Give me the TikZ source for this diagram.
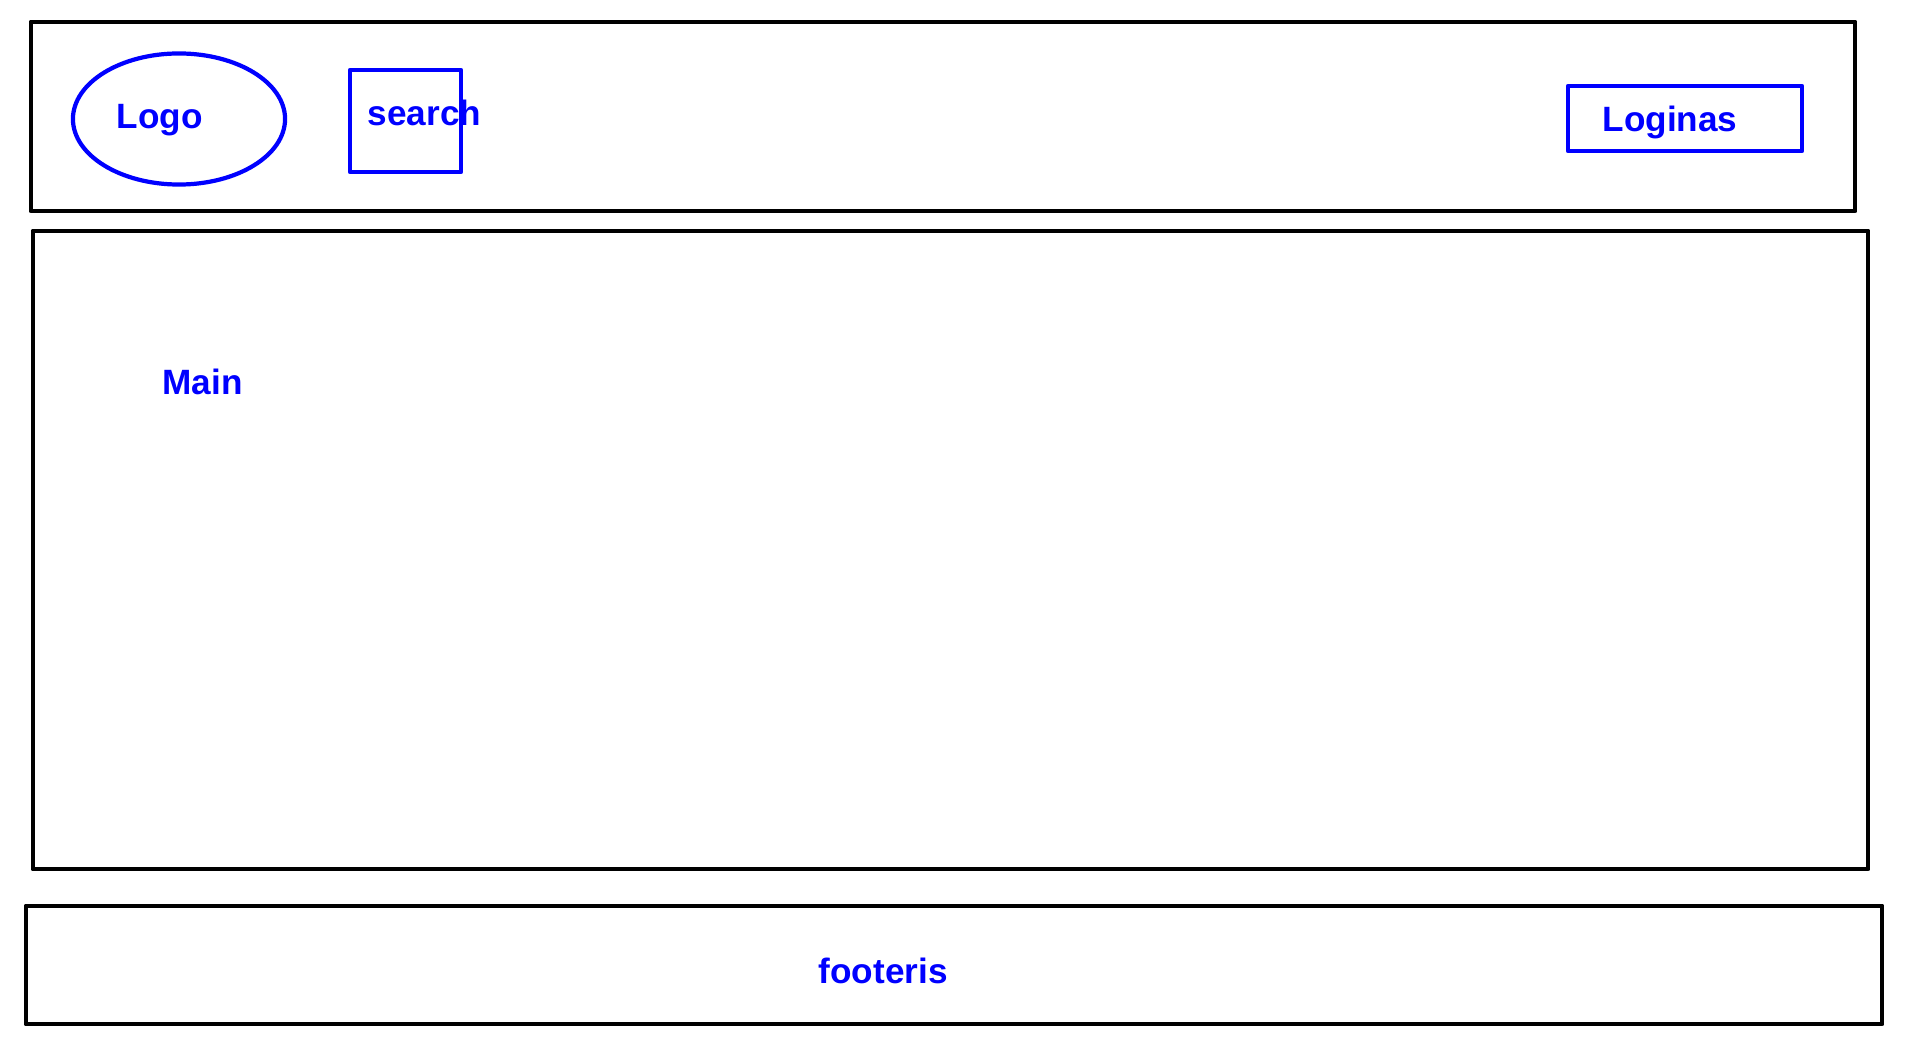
\documentclass[tikz,border=0pt]{standalone}
\usepackage{fontspec}
\setmainfont{Liberation Sans}
\usetikzlibrary{shapes.geometric}
\tikzset{
  frame/.style={line width=1.4pt,black,line join=round},
  widget/.style={line width=1.2pt,blue,line join=round},
  label/.style={blue,anchor=base west,inner sep=0pt,font=\fontsize{10pt}{12pt}\selectfont\bfseries}
}

\begin{document}
\begin{tikzpicture}[x=0.01cm,y=-0.01cm]
    \useasboundingbox (0,0) rectangle (1915,1049);
    \draw[frame] (31,22) rectangle (1855,211);
    \draw[frame] (33,231) rectangle (1868,869);
    \draw[frame] (26,906) rectangle (1882,1024);

    \node[widget,draw,ellipse,minimum width=2.12cm,minimum height=1.31cm,inner sep=0pt] (logobox) at (179,119) {};
    \draw[widget] (350,70) rectangle (461,172);
    \draw[widget] (1568,86) rectangle (1802,151);

    \node[label] (logo) at (116,129) {Logo};
    \node[label] (search) at (367,126) {search};
    \node[label] (login) at (1602,132) {Loginas};
    \node[label] (main) at (162,395) {Main};
    \node[label] (footer) at (818,983) {footeris};
\end{tikzpicture}
\end{document}
